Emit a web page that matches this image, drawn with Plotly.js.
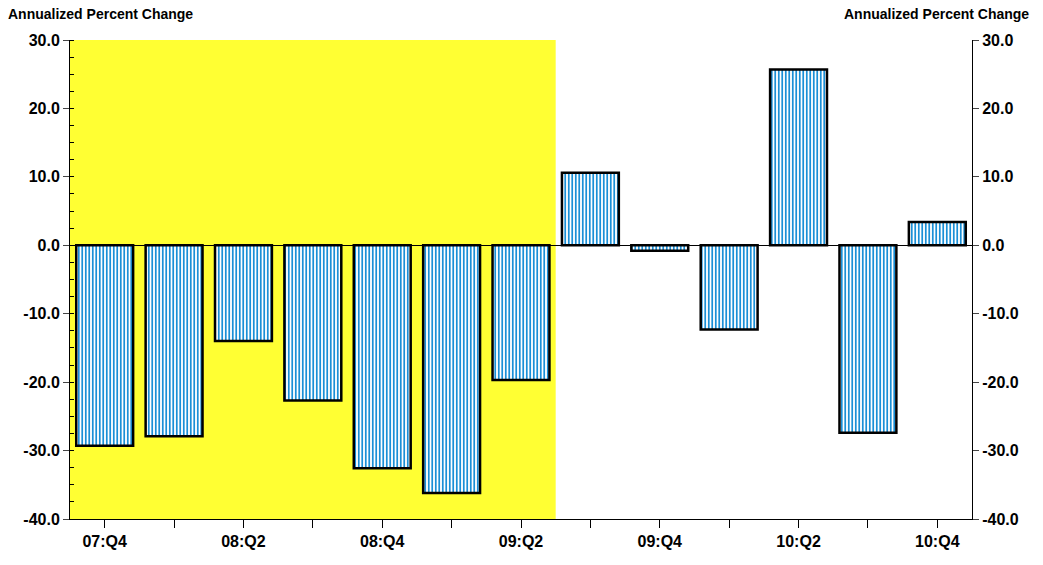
<!DOCTYPE html>
<html><head><script src="https://cdn.plot.ly/plotly-3.0.1.min.js"></script>
<style>body{margin:0}</style></head><body><div id="c" style="width:1043px;height:565px"></div>
<script>
var categories=["07:Q4","08:Q1","08:Q2","08:Q3","08:Q4","09:Q1","09:Q2","09:Q3","09:Q4","10:Q1","10:Q2","10:Q3","10:Q4"];
var values=[-29.3,-27.9,-14.0,-22.7,-32.6,-36.2,-19.7,10.6,-0.8,-12.3,25.7,-27.4,3.4];
var tickLabels=["07:Q4","","08:Q2","","08:Q4","","09:Q2","","09:Q4","","10:Q2","","10:Q4"];
var yTicks=[-40,-30,-20,-10,0,10,20,30];
var yText=yTicks.map(function(v){return "<b>"+v.toFixed(1)+"</b>";});
var fam="Arial, Liberation Sans, sans-serif";
var idx=categories.map(function(c,i){return i;});
var tf={family:fam,size:16,color:"#000"};
Plotly.newPlot("c",[{type:"bar",x:idx,y:values,
 marker:{color:"#fff",pattern:{shape:"|",fgcolor:"#1a8fd6",bgcolor:"#fff",size:3.5,solidity:0.5},line:{color:"#000",width:2.5}},
 hoverinfo:"none"},
 {type:"scatter",x:idx,y:values,yaxis:"y2",mode:"none",showlegend:false,hoverinfo:"none"}],
{width:1043,height:565,margin:{l:70,r:71,t:40,b:46},showlegend:false,bargap:0.18,
 plot_bgcolor:"#fff",paper_bgcolor:"#fff",
 xaxis:{range:[-0.5,12.5],tickvals:idx,ticktext:tickLabels.map(function(t){return t?"<b>"+t+"</b>":"";}),ticks:"outside",ticklen:8,tickcolor:"#000",
  showline:true,linecolor:"#000",showgrid:false,zeroline:false,tickfont:tf},
 yaxis:{range:[-40,30],tickvals:yTicks,ticktext:yText,ticks:"outside",ticklen:6,showline:true,linecolor:"#000",mirror:true,
  showgrid:false,zeroline:true,zerolinecolor:"#000",zerolinewidth:1,
  minor:{dtick:2.5,ticks:"inside",ticklen:4,tickcolor:"#000"},tickfont:tf},
 yaxis2:{range:[-40,30],overlaying:"y",side:"right",tickvals:yTicks,ticktext:yText,ticks:"outside",ticklen:6,
  showgrid:false,zeroline:false,tickfont:tf},
 shapes:[{type:"rect",xref:"x",yref:"paper",x0:-0.5,x1:6.5,y0:0,y1:1,fillcolor:"#ffff33",line:{width:0},layer:"below"}],
 annotations:[{text:"<b>Annualized Percent Change</b>",xref:"paper",yref:"paper",x:-0.071,y:1.0,yshift:16,xanchor:"left",yanchor:"bottom",showarrow:false,font:{family:fam,size:14,color:"#000"}},
 {text:"<b>Annualized Percent Change</b>",xref:"paper",yref:"paper",x:1.065,y:1.0,yshift:16,xanchor:"right",yanchor:"bottom",showarrow:false,font:{family:fam,size:14,color:"#000"}}]
},{displayModeBar:false,staticPlot:true});
</script></body></html>
